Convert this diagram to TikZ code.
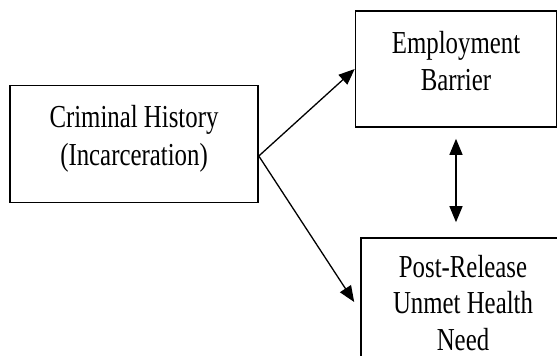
\documentclass[tikz,border=0pt]{standalone}
\usepackage{fontspec}
\setmainfont{Liberation Serif}[FakeStretch=0.776]
\usetikzlibrary{arrows.meta}

\begin{document}
\begin{tikzpicture}[x=1pt, y=-1pt,
    box/.style={draw, line width=1.6pt, inner sep=0pt},
    words/.style={align=center, inner sep=0pt, anchor=base, font=\fontsize{32}{37.3}\selectfont},
    link/.style={line width=1.3pt, -{Triangle[length=16pt, width=13pt]}}]
                \useasboundingbox (0,0) rectangle (557,356);
                \clip (0,0) rectangle (557,356);
                % boxes
                \node(crim_h) at(134, 144) [box, minimum width=248pt, minimum height=117pt] {};
                \node(emp_b)  at(456, 69)  [box, minimum width=201pt, minimum height=116pt] {};
                \node(post_n) at(463, 308) [box, minimum width=204pt, minimum height=140pt] {};
                % texts (base = last line)
                \node(crim_t) at(134, 165) [words] {Criminal History\\(Incarceration)};
                \node(emp_t)  at(456, 90.6) [words] {Employment\\Barrier};
                \node(post_t) at(463, 350) [words, font=\fontsize{32}{36.5}\selectfont] {Post-Release\\Unmet Health\\Need};
                % arrows
                \coordinate(fork) at([yshift=-12pt]crim_h.east);
                \coordinate(top_e) at([yshift=-11pt]emp_b.south);
                \coordinate(bot_e) at(top_e |- post_n.north);
                \draw[link] (fork) -- (emp_b.west);
                \draw[link] (fork) -- ([xshift=-6pt, yshift=6pt]post_n.west);
                \draw[link, {Triangle[length=16pt, width=13pt]}-{Triangle[length=16pt, width=13pt]}]
                    (top_e) -- ([yshift=15pt]bot_e);
            \end{tikzpicture}
\end{document}
